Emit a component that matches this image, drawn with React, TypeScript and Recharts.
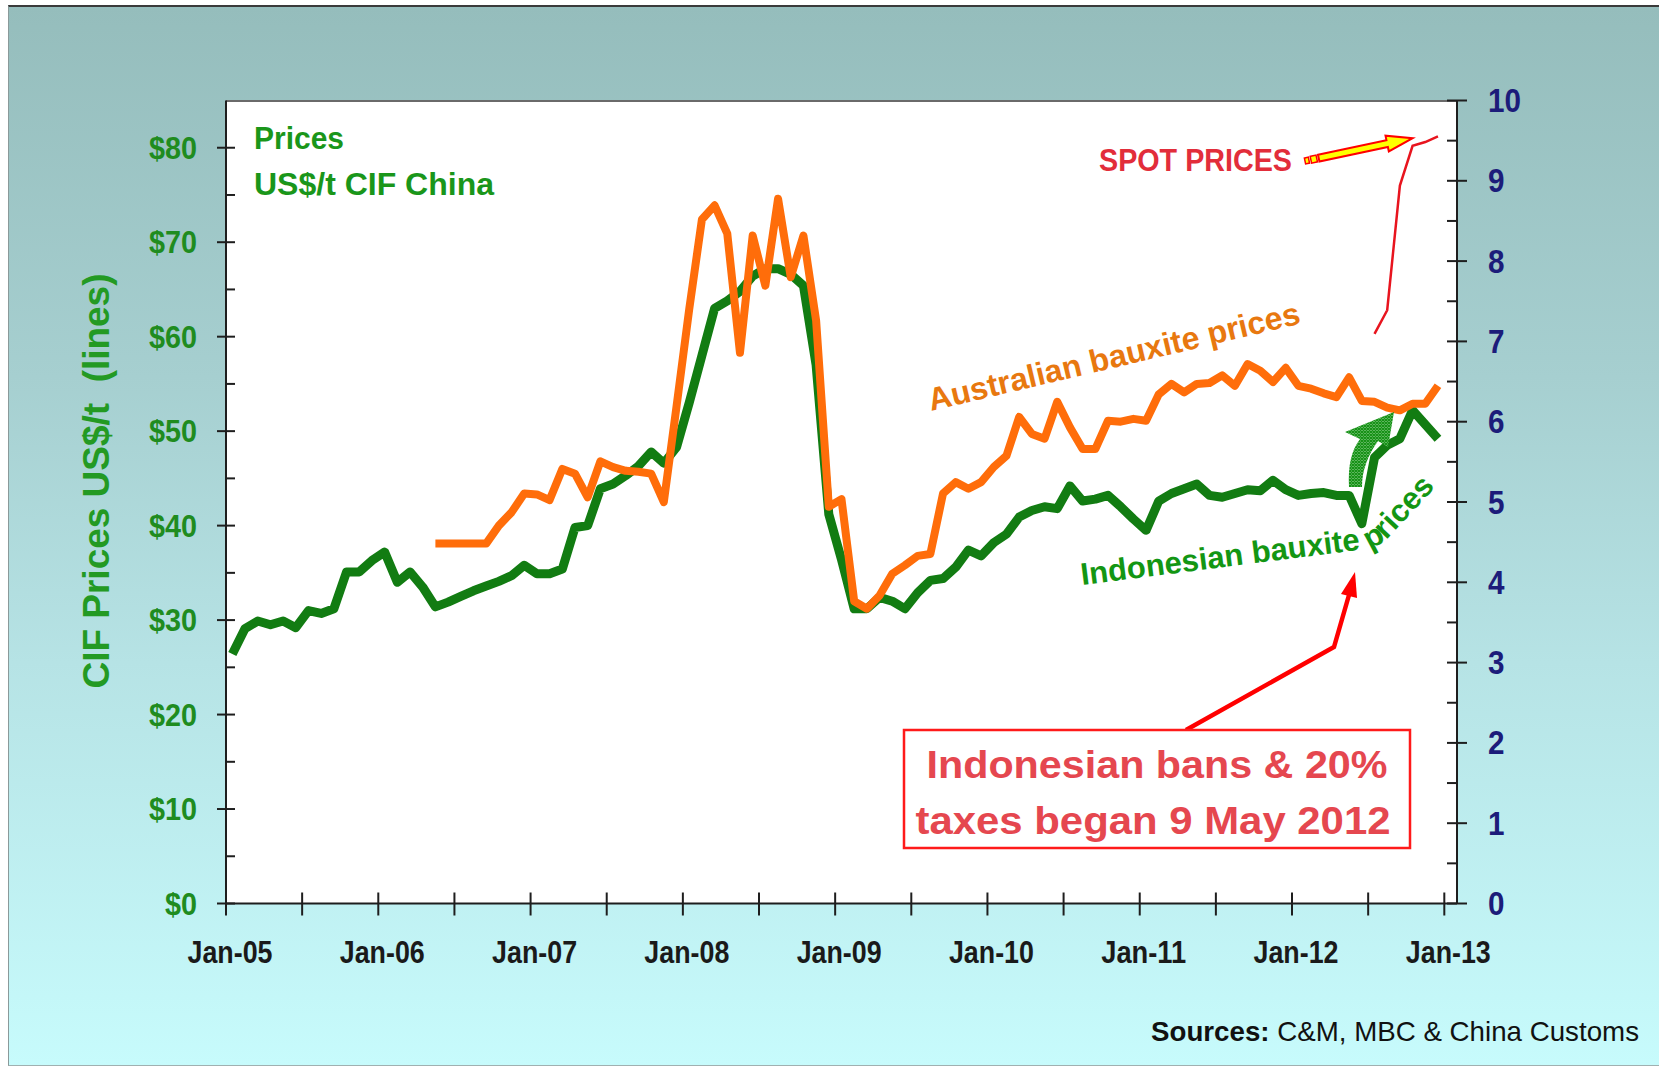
import React from 'react'
import { LineChart, Line, XAxis, YAxis } from 'recharts'

// Monthly CIF China prices, US$/t. Index 0 = Jan-05, last = Dec-12
const indonesian = [
  26.4, 29.1, 29.9, 29.5, 29.9, 29.2, 31.0, 30.7, 31.2, 35.1, 35.1, 36.3,
  37.2, 34.0, 35.1, 33.5, 31.4, 31.9, 32.5, 33.1, 33.6, 34.1, 34.7, 35.8,
  34.9, 34.9, 35.4, 39.8, 40.0, 43.9, 44.4, 45.3, 46.3, 47.8, 46.6, 48.3,
  53.0, 58.0, 63.0, 63.8, 64.8, 66.4, 67.2, 67.2, 66.6, 65.4, 57.0, 41.2,
  36.4, 31.2, 31.2, 32.4, 32.0, 31.2, 32.9, 34.2, 34.4, 35.6, 37.4, 36.8,
  38.2, 39.1, 40.9, 41.6, 42.0, 41.8, 44.2, 42.6, 42.8, 43.2, 42.0, 40.7,
  39.5, 42.6, 43.4, 43.9, 44.4, 43.2, 43.0, 43.4, 43.8, 43.7, 44.8, 43.8,
  43.2, 43.4, 43.5, 43.2, 43.2, 40.2, 47.2, 48.5, 49.2, 52.2, 50.7, 49.2,
]

// Australian series starts May-06
const australianStart = 16
const australian = [
  38.1, 38.1, 38.1, 38.1, 38.1, 40.0, 41.4, 43.4,
  43.3, 42.7, 46.0, 45.5, 43.0, 46.8, 46.2, 45.8, 45.7, 45.5, 42.5, 52.6,
  62.9, 72.4, 73.9, 70.9, 58.3, 70.7, 65.4, 74.6, 66.3, 70.7, 61.7, 42.0,
  42.8, 32.0, 31.2, 32.6, 34.9, 35.8, 36.8, 37.0, 43.4, 44.6, 43.9, 44.6,
  46.2, 47.4, 51.5, 49.7, 49.2, 53.1, 50.4, 48.1, 48.1, 51.1, 51.0, 51.3,
  51.1, 53.9, 55.0, 54.1, 55.0, 55.1, 55.9, 54.8, 57.1, 56.4, 55.2, 56.7,
  54.8, 54.5, 54.0, 53.6, 55.7, 53.2, 53.1, 52.5, 52.2, 52.9, 52.9, 54.8,
]

// Spot prices Jul-12 .. Dec-12
const spotStart = 90
const spotPrices = [60.3, 62.8, 76.0, 80.2, 80.6, 81.2]

const yearLabels = ['Jan-05', 'Jan-06', 'Jan-07', 'Jan-08', 'Jan-09', 'Jan-10', 'Jan-11', 'Jan-12', 'Jan-13']
const xTicks = [0, 6, 12, 18, 24, 30, 36, 42, 48, 54, 60, 66, 72, 78, 84, 90, 96]
const leftTicks = [0, 5, 10, 15, 20, 25, 30, 35, 40, 45, 50, 55, 60, 65, 70, 75, 80]
const rightTicks = [0, 0.5, 1, 1.5, 2, 2.5, 3, 3.5, 4, 4.5, 5, 5.5, 6, 6.5, 7, 7.5, 8, 8.5, 9, 9.5, 10]

const data = indonesian.map((v, i) => ({
  x: i + 0.5,
  indo: v,
  aus: i >= australianStart ? australian[i - australianStart] : null,
  spot: i >= spotStart ? spotPrices[i - spotStart] : null,
}))

const sans = "'Liberation Sans', Arial, sans-serif"
const axisColor = '#1e1e1e'

const LeftTick = (props: any) => {
  const { x, y, payload } = props
  const v = payload.value
  const major = v % 10 === 0
  const label = '$' + v
  return (
    <g>
      <line x1={major ? x - 9 : x} x2={x + 9} y1={y} y2={y} stroke={axisColor} strokeWidth={2} />
      {major && (
        <text x={x - 29} y={y} textAnchor="end" dominantBaseline="central"
          fontFamily={sans} fontWeight="bold" fontSize={32} fill="#1f8c1f"
          textLength={16 * label.length} lengthAdjust="spacingAndGlyphs">
          {label}
        </text>
      )}
    </g>
  )
}

const RightTick = (props: any) => {
  const { x, y, payload } = props
  const v = payload.value
  const major = Number.isInteger(v)
  const label = String(v)
  return (
    <g>
      <line x1={x - 10} x2={major ? x + 10 : x} y1={y} y2={y} stroke={axisColor} strokeWidth={2} />
      {major && (
        <text x={x + 31} y={y} textAnchor="start" dominantBaseline="central"
          fontFamily={sans} fontWeight="bold" fontSize={33} fill="#1c1c7a"
          textLength={16.5 * label.length} lengthAdjust="spacingAndGlyphs">
          {label}
        </text>
      )}
    </g>
  )
}

const BottomTick = (props: any) => {
  const { x, y, payload } = props
  const v = payload.value
  const label = v % 12 === 0 ? yearLabels[v / 12] : null
  return (
    <g>
      <line x1={x} x2={x} y1={y - 11} y2={y + 12} stroke={axisColor} strokeWidth={2} />
      {label && (
        <text x={x + 4} y={y + 59} textAnchor="middle"
          fontFamily={sans} fontWeight="bold" fontSize={31} fill="#1a1a1a"
          textLength={85} lengthAdjust="spacingAndGlyphs">
          {label}
        </text>
      )}
    </g>
  )
}

function Annotations() {
  return (
    <svg width={1659} height={1069} style={{ position: 'absolute', left: 0, top: 0, pointerEvents: 'none' }}>
      <defs>
        <pattern id="hatch" width="3" height="3" patternUnits="userSpaceOnUse">
          <rect width="3" height="3" fill="#7cc77c" />
          <path d="M0 0L3 3M3 0L0 3" stroke="#128f12" strokeWidth="1.1" />
        </pattern>
        <path id="indoPath" d="M1082,585 L1366,549 C1376,548 1383,543 1390,536 L1460,461" />
      </defs>

      <text transform="rotate(-90, 96, 481)" x={96} y={481} textAnchor="middle" dominantBaseline="central"
        fontFamily={sans} fontWeight="bold" fontSize={36} fill="#239a23" textLength={415}
        lengthAdjust="spacingAndGlyphs" style={{ whiteSpace: 'pre' }}>
        {'CIF Prices US$/t  (lines)'}
      </text>

      <text x={254} y={149} fontFamily={sans} fontWeight="bold" fontSize={31} fill="#1a961a"
        textLength={90} lengthAdjust="spacingAndGlyphs">Prices</text>
      <text x={254} y={195} fontFamily={sans} fontWeight="bold" fontSize={31} fill="#1a961a"
        textLength={240} lengthAdjust="spacingAndGlyphs">US$/t CIF China</text>

      <text x={1099} y={171} fontFamily={sans} fontWeight="bold" fontSize={31} fill="#e22d3a"
        textLength={193} lengthAdjust="spacingAndGlyphs">SPOT PRICES</text>
      <g transform="translate(1305,161) rotate(-12)">
        <rect x={0} y={-3} width={4} height={6} fill="#ffff00" stroke="#ff0000" strokeWidth={1.5} />
        <rect x={6} y={-3.5} width={6} height={7} fill="#ffff00" stroke="#ff0000" strokeWidth={1.5} />
        <polygon points="14,-3.5 84,-3.5 84,-8 110,0 84,8 84,3.5 14,3.5" fill="#ffff00" stroke="#ff0000" strokeWidth={2} />
      </g>

      <text transform="rotate(-13.3, 931, 411)" x={931} y={411} fontFamily={sans} fontWeight="bold" fontSize={32}
        fill="#e8780f" textLength={381} lengthAdjust="spacingAndGlyphs">Australian bauxite prices</text>

      <text fontFamily={sans} fontWeight="bold" fontSize={31} fill="#139613">
        <textPath href="#indoPath">Indonesian bauxite prices</textPath>
      </text>

      <path d="M1349,487 C1348,466 1351,451 1360,439 L1345,432 L1394,412 L1388,447 L1378,441 C1368,455 1362,470 1362,487 Z"
        fill="url(#hatch)" />

      <polyline points="1186,730 1334,647 1349,595" fill="none" stroke="#ff0000" strokeWidth={4.5} />
      <polygon points="1355,572 1357,598 1341,594" fill="#ff0000" />

      <rect x={904} y={730} width={506} height={118} fill="#ffffff" stroke="#ff1a1a" strokeWidth={2.5} />
      <text x={1157} y={778} textAnchor="middle" fontFamily={sans} fontWeight="bold" fontSize={38}
        fill="#e5474f" textLength={461} lengthAdjust="spacingAndGlyphs">Indonesian bans &amp; 20%</text>
      <text x={1153} y={834} textAnchor="middle" fontFamily={sans} fontWeight="bold" fontSize={38}
        fill="#e5474f" textLength={475} lengthAdjust="spacingAndGlyphs">taxes began 9 May 2012</text>

      <text x={1151} y={1041} fontFamily={sans} fontSize={27.5} fill="#111" textLength={488}
        lengthAdjust="spacingAndGlyphs">
        <tspan fontWeight="bold">Sources:</tspan>
        <tspan>{' C&M, MBC & China Customs'}</tspan>
      </text>
    </svg>
  )
}

export default function App() {
  return (
    <div style={{ position: 'absolute', left: 0, top: 0, width: 1659, height: 1069, overflow: 'hidden', background: '#ffffff' }}>
      <div style={{
        position: 'absolute', left: 8, top: 5, width: 1651, height: 1061, boxSizing: 'border-box',
        borderTop: '2px solid #3a3a3a', borderLeft: '1px solid #8a9a9a', borderBottom: '1px solid #a0b0b0',
        background: 'linear-gradient(to bottom, #95bdbc 0%, #a6cfd0 35%, #b6e3e5 62%, #c7fbfc 100%)',
      }} />
      <div style={{
        position: 'absolute', left: 226, top: 100, width: 1231, height: 804,
        background: '#ffffff', borderTop: '2px solid #6a6a6a', boxSizing: 'border-box',
      }} />
      <div style={{ position: 'absolute', left: 0, top: 0 }}>
        <LineChart width={1659} height={1069} data={data}
          margin={{ top: 100.5, right: 142, bottom: 105.5, left: 166 }}>
          <XAxis dataKey="x" type="number" domain={[0, 97]} ticks={xTicks} interval={0}
            allowDataOverflow height={60} tickSize={0} tickMargin={0} tick={BottomTick}
            axisLine={{ stroke: axisColor, strokeWidth: 2 }} />
          <YAxis yAxisId="left" domain={[0, 85]} ticks={leftTicks} interval={0} allowDataOverflow
            width={60} tickSize={0} tickMargin={0} tick={LeftTick}
            axisLine={{ stroke: axisColor, strokeWidth: 2 }} />
          <YAxis yAxisId="right" orientation="right" domain={[0, 10]} ticks={rightTicks} interval={0}
            allowDataOverflow width={60} tickSize={0} tickMargin={0} tick={RightTick}
            axisLine={{ stroke: axisColor, strokeWidth: 2 }} />
          <Line yAxisId="left" dataKey="indo" stroke="#127c12" strokeWidth={9} dot={false}
            strokeLinejoin="round" isAnimationActive={false} />
          <Line yAxisId="left" dataKey="aus" stroke="#ff6d0a" strokeWidth={8} dot={false}
            strokeLinejoin="round" isAnimationActive={false} />
          <Line yAxisId="left" dataKey="spot" stroke="#e8141e" strokeWidth={2.5} dot={false}
            isAnimationActive={false} />
        </LineChart>
      </div>
      <Annotations />
    </div>
  )
}
